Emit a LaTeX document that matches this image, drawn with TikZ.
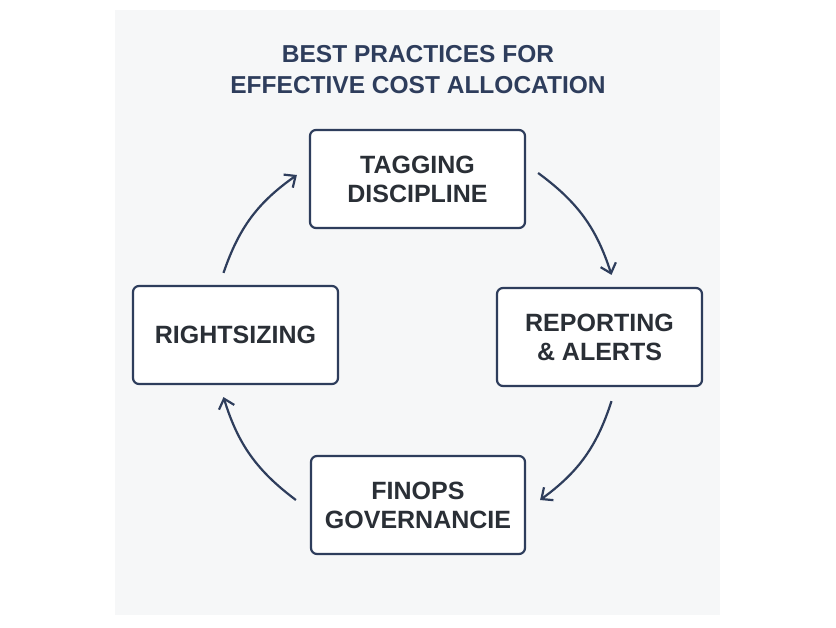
\documentclass[tikz,border=0pt]{standalone}
\usepackage{fontspec}
\setmainfont{Liberation Sans}
\usetikzlibrary{arrows.meta}
\definecolor{navy}{HTML}{2E3D5C}
\definecolor{txt}{HTML}{2A2F36}
\definecolor{panel}{HTML}{F6F7F8}
\begin{document}
\begin{tikzpicture}[x=1pt,y=-1pt,
  stepbox/.style={draw=navy,line width=2.2pt,fill=white,rounded corners=6pt,minimum width=#1,minimum height=98pt,align=center,font=\fontsize{25}{29}\selectfont\bfseries,text=txt},
  conn/.style={draw=navy,line width=2.2pt,-{Straight Barb[length=9pt,width=16pt,line width=2.2pt]}}]
\useasboundingbox (0,0) rectangle (836,628);
\fill[white] (0,0) rectangle (836,628);
\fill[panel] (115,10) rectangle (720,615);
\node[font=\fontsize{24.5}{31}\selectfont\bfseries,text=navy,align=center] (title) at (418,70) {BEST PRACTICES FOR\\EFFECTIVE COST ALLOCATION};
\node[stepbox=215pt] (top) at (417.5,179) {TAGGING\\DISCIPLINE};
\node[stepbox=205pt] (right) at (599.5,337) {REPORTING\\\& ALERTS};
\node[stepbox=214pt] (bot) at (418,505) {FINOPS\\GOVERNANCIE};
\node[stepbox=205pt] (left) at (235.5,335) {RIGHTSIZING};
\draw[conn] ([shift={(12pt,6pt)}]top.east) to[bend left=18] ([shift={(12pt,12pt)}]right.north);
\draw[conn] ([shift={(12pt,-14pt)}]right.south) to[bend left=18] ([shift={(14pt,5pt)}]bot.east);
\draw[conn] ([shift={(-14pt,5pt)}]bot.west) to[bend left=18] ([shift={(-12pt,-12pt)}]left.south);
\draw[conn] ([shift={(-12pt,12pt)}]left.north) to[bend left=18] ([shift={(-12pt,4pt)}]top.west);
\end{tikzpicture}
\end{document}
